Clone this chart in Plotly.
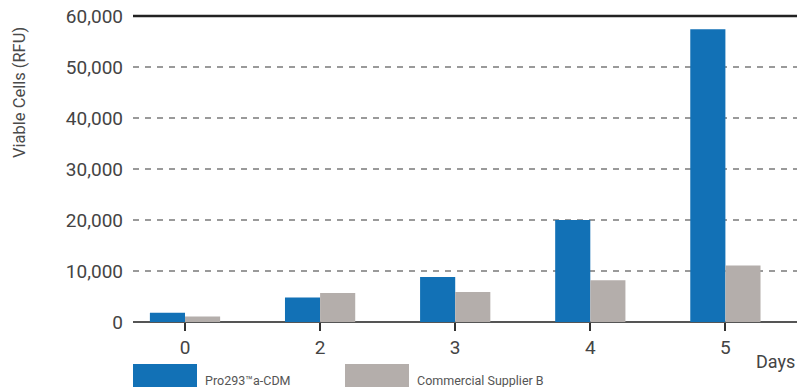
import plotly.graph_objects as go

days = ["0", "2", "3", "4", "5"]
pro293 = [1800, 4800, 8800, 20000, 57400]
supplier_b = [1100, 5700, 5900, 8200, 11100]
y_ticks = [0, 10000, 20000, 30000, 40000, 50000, 60000]
y_labels = ["0", "10,000", "20,000", "30,000", "40,000", "50,000", "60,000"]
series_names = ["Pro293\u2122a-CDM", "Commercial Supplier B"]

BLUE = "#1271b6"
GREY = "#b4aeab"
FONT = "Roboto"

fig = go.Figure()
fig.add_trace(go.Bar(x=days, y=pro293, name=series_names[0],
                     marker=dict(color=BLUE, line_width=0)))
fig.add_trace(go.Bar(x=days, y=supplier_b, name=series_names[1],
                     marker=dict(color=GREY, line_width=0)))

fig.update_layout(
    width=798, height=387,
    margin=dict(l=133, r=1, t=16, b=65),
    paper_bgcolor="white", plot_bgcolor="white",
    barmode="group", bargap=0.48, bargroupgap=0,
    showlegend=False,
    font=dict(family=FONT, color="#444"),
)

fig.update_xaxes(
    type="category", range=[-0.385, 4.53],
    showgrid=False, showline=False, zeroline=False,
    ticks="outside", ticklen=8, tickwidth=2, tickcolor="#333",
    tickfont=dict(size=19, color="#444"),
)
fig.update_yaxes(
    range=[0, 60000], tickvals=y_ticks, ticktext=y_labels,
    showgrid=True, gridcolor="#9a9a9a", gridwidth=1.5, griddash="6px,6px",
    zeroline=True, zerolinecolor="#555", zerolinewidth=2,
    showline=False, ticks="", ticklabelstandoff=9,
    tickfont=dict(size=19, color="#444"),
)

# solid rule along the top of the plot
fig.add_shape(type="line", xref="paper", yref="paper", x0=0, x1=1, y0=1, y1=1,
              line=dict(color="#222", width=2.5))

# axis titles
fig.add_annotation(text="Viable Cells (RFU)", xref="paper", yref="paper",
                   x=-0.171, y=0.75, textangle=-90, showarrow=False,
                   font=dict(size=16.5, color="#4a4a4a"), xanchor="center", yanchor="middle")
fig.add_annotation(text="Days", xref="paper", yref="paper",
                   x=1.0, y=-0.13, showarrow=False, xanchor="right", yanchor="middle",
                   font=dict(size=18, color="#444"))

# legend drawn below the axis
legend_x = [0, 212]
for i, (name, col) in enumerate(zip(series_names, [BLUE, GREY])):
    x0 = legend_x[i] / 664
    x1 = (legend_x[i] + 64) / 664
    fig.add_shape(type="rect", xref="paper", yref="paper",
                  x0=x0, x1=x1, y0=-65 / 306, y1=-42 / 306,
                  fillcolor=col, line_width=0)
    fig.add_annotation(text=name, xref="paper", yref="paper",
                       x=(legend_x[i] + 70) / 664, y=-58 / 306, showarrow=False,
                       xanchor="left", yanchor="middle",
                       font=dict(size=12.5, color="#555"))

fig.write_html("out.html")
